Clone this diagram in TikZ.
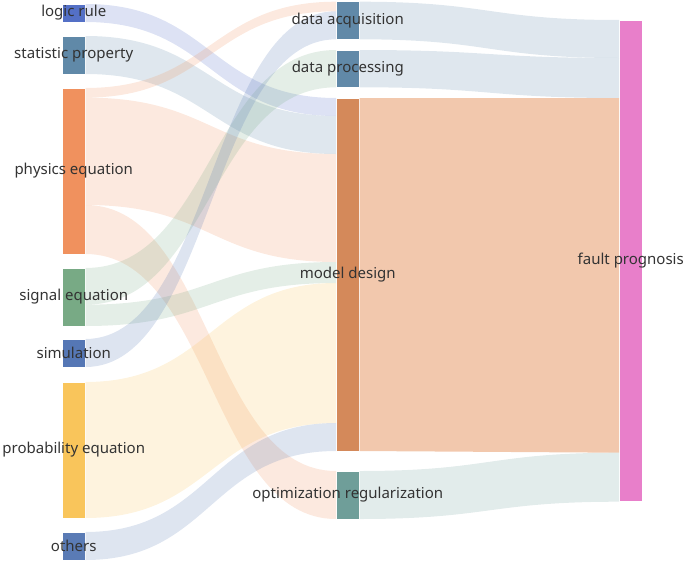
\documentclass[tikz,border=0pt]{standalone}
\usepackage{fontspec}
\setmainfont{Noto Sans}
\usetikzlibrary{calc}
\definecolor{cLogic}{HTML}{5470C6}
\definecolor{cStat}{HTML}{6089A8}
\definecolor{cPhys}{HTML}{F0915E}
\definecolor{cSig}{HTML}{78AA85}
\definecolor{cSim}{HTML}{5577B5}
\definecolor{cProb}{HTML}{F9C55B}
\definecolor{cOth}{HTML}{5A7BB5}
\definecolor{cAcq}{HTML}{6189A8}
\definecolor{cModel}{HTML}{D4895A}
\definecolor{cOpt}{HTML}{6F9E99}
\definecolor{cFault}{HTML}{E87FCA}
\definecolor{cModelFlow}{HTML}{F2C8AD}
\definecolor{cText}{HTML}{333333}
\newcommand\sflow[8]{%
  \coordinate (s1) at ($(#1.north east)+(0,-#2)$);
  \coordinate (s2) at ($(#1.north east)+(0,-#3)$);
  \coordinate (t1) at ($(#4.north west)+(0,-#5)$);
  \coordinate (t2) at ($(#4.north west)+(0,-#6)$);
  \coordinate (m) at ($(s1)!0.5!(t1)$);
  \fill[#7, fill opacity=#8] (s1) .. controls (m |- s1) and (m |- t1) .. (t1) -- (t2) .. controls (m |- t2) and (m |- s2) .. (s2) -- cycle;
}
\begin{document}
\begin{tikzpicture}[x=1pt,y=1pt,
  bar/.style={draw=white, line width=0.5pt, inner sep=0pt, outer sep=0pt, anchor=north west, minimum width=23.5pt},
  lbl/.style={text=cText, font=\fontsize{15}{17}\selectfont, inner sep=0pt}]
\useasboundingbox (0,0) rectangle (685,-562);
% left column
\node[bar, fill=cLogic, minimum height=18pt] (logic) at (62,-4) {};
\node[bar, fill=cStat, minimum height=38pt] (stat) at (62,-36) {};
\node[bar, fill=cPhys, minimum height=166pt] (phys) at (62,-88) {};
\node[bar, fill=cSig, minimum height=58pt] (sig) at (62,-268) {};
\node[bar, fill=cSim, minimum height=28pt] (sim) at (62,-339) {};
\node[bar, fill=cProb, minimum height=136pt] (prob) at (62,-382) {};
\node[bar, fill=cOth, minimum height=28pt] (oth) at (62,-532) {};
% middle column
\node[bar, fill=cAcq, minimum height=37.6pt] (acq) at (336,-1.7) {};
\node[bar, fill=cAcq, minimum height=37.3pt] (proc) at (336,-50) {};
\node[bar, fill=cModel, minimum height=353pt] (model) at (336,-98) {};
\node[bar, fill=cOpt, minimum height=48pt] (opt) at (336,-471) {};
% right column
\node[bar, fill=cFault, minimum height=481.7pt] (fault) at (619,-20) {};
% flows
\sflow{logic}{0}{18}{model}{0}{18}{cLogic}{0.2}
\sflow{stat}{0}{38}{model}{18}{56}{cStat}{0.2}
\sflow{phys}{0}{9.6}{acq}{0}{9.6}{cPhys}{0.2}
\sflow{phys}{9.6}{117}{model}{56}{164}{cPhys}{0.2}
\sflow{phys}{117}{166}{opt}{0}{48}{cPhys}{0.2}
\sflow{sig}{0}{36.7}{proc}{0}{37.3}{cSig}{0.2}
\sflow{sig}{36.7}{58}{model}{164}{185}{cSig}{0.2}
\sflow{sim}{0}{28}{acq}{9.6}{37.6}{cSim}{0.2}
\sflow{prob}{0}{136}{model}{185}{325}{cProb}{0.2}
\sflow{oth}{0}{28}{model}{325}{353}{cOth}{0.2}
\sflow{acq}{0}{37.6}{fault}{0}{38}{cAcq}{0.2}
\sflow{proc}{0}{37.3}{fault}{38}{78}{cAcq}{0.2}
\sflow{model}{0}{353}{fault}{78}{432.7}{cModelFlow}{1}
\sflow{opt}{0}{48}{fault}{432.7}{481.7}{cOpt}{0.2}
% labels
\node[lbl] (logicL) at (logic) {logic rule};
\node[lbl] (statL) at (stat) {statistic property};
\node[lbl] (physL) at (phys) {physics equation};
\node[lbl] (sigL) at (sig) {signal equation};
\node[lbl] (simL) at (sim) {simulation};
\node[lbl] (probL) at (prob) {probability equation};
\node[lbl] (othL) at (oth) {others};
\node[lbl] (acqL) at (acq) {data acquisition};
\node[lbl] (procL) at (proc) {data processing};
\node[lbl] (modelL) at (model) {model design};
\node[lbl] (optL) at (opt) {optimization regularization};
\node[lbl] (faultL) at (fault) {fault prognosis};
\end{tikzpicture}
\end{document}
